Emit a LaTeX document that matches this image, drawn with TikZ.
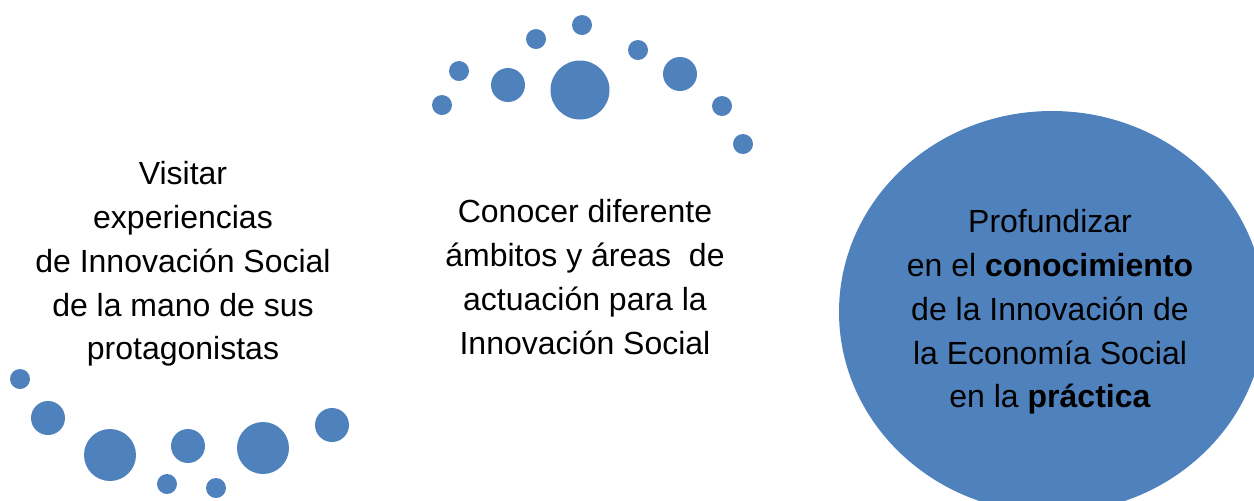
\documentclass[tikz,border=0pt]{standalone}
\usepackage{fontspec}
\setmainfont{Liberation Sans}
\definecolor{dotblue}{HTML}{4F81BD}
\tikzset{
  dot/.style={fill=dotblue},
  ideatext/.style={align=center, font=\fontsize{16}{21.9}\selectfont, inner sep=0pt}
}
\begin{document}
\begin{tikzpicture}[x=0.5pt, y=-0.5pt]
  \useasboundingbox (0,0) rectangle (1254,500);
  \clip (0,0) rectangle (1254,500);
  % arc of dots above
  \fill[dot] (442,105) circle(10);
  \fill[dot] (459,71) circle(10);
  \fill[dot] (508,85) circle(17);
  \fill[dot] (536,39) circle(10);
  \fill[dot] (582,25) circle(10);
  \fill[dot] (580,90) circle(29.5);
  \fill[dot] (638,50) circle(10);
  \fill[dot] (680,74) circle(17);
  \fill[dot] (722,106) circle(10);
  \fill[dot] (743,144) circle(10);
  % arc of dots below
  \fill[dot] (20,379) circle(10);
  \fill[dot] (48,418) circle(17);
  \fill[dot] (110,455) circle(26);
  \fill[dot] (188,446) circle(17);
  \fill[dot] (167,484) circle(10);
  \fill[dot] (216,488) circle(10);
  \fill[dot] (263,448) circle(26);
  \fill[dot] (332,425) circle(17);
  % big circle
  \fill[dot] (1052,312) ellipse [x radius=213, y radius=201];
  \node[ideatext] (visitar) at (183,264) {Visitar\\experiencias\\de Innovación Social\\de la mano de sus\\protagonistas};
  \node[ideatext] (conocer) at (585,277) {Conocer diferente\\ámbitos y áreas\ \ de\\actuación para la\\Innovación Social};
  \node[ideatext] (profundizar) at (1050,312) {Profundizar\\en el \textbf{conocimiento}\\de la Innovación de\\la Economía Social\\en la \textbf{práctica}};
\end{tikzpicture}
\end{document}
